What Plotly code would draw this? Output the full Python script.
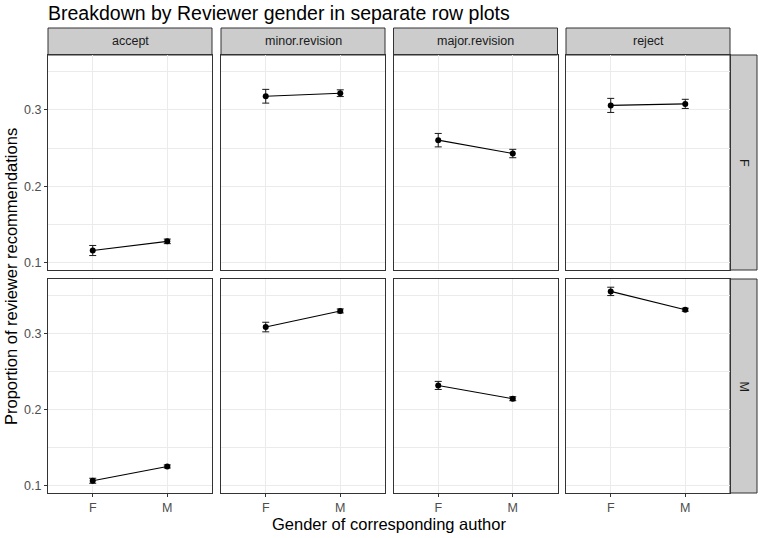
import plotly.graph_objects as go
from plotly.subplots import make_subplots

# ---- data ----
outcomes = ["accept", "minor.revision", "major.revision", "reject"]
reviewer_genders = ["F", "M"]
author_genders = ["F", "M"]

# proportions per reviewer gender and outcome -> values for author F, M
prop_F_reviewer = {
    "accept": [0.116, 0.128],
    "minor.revision": [0.318, 0.322],
    "major.revision": [0.2605, 0.243],
    "reject": [0.306, 0.308],
}
err_F_reviewer = {
    "accept": [0.0066, 0.003],
    "minor.revision": [0.009, 0.0044],
    "major.revision": [0.0088, 0.0055],
    "reject": [0.0092, 0.006],
}
prop_M_reviewer = {
    "accept": [0.1066, 0.1254],
    "minor.revision": [0.3088, 0.330],
    "major.revision": [0.232, 0.2145],
    "reject": [0.3557, 0.3316],
}
err_M_reviewer = {
    "accept": [0.0033, 0.002],
    "minor.revision": [0.0063, 0.0026],
    "major.revision": [0.0053, 0.0026],
    "reject": [0.0055, 0.002],
}
y_ticks = [0.1, 0.2, 0.3]
y_tick_labels = ["0.1", "0.2", "0.3"]

title_text = "Breakdown by Reviewer gender in separate row plots"
x_title = "Gender of corresponding author"
y_title = "Proportion of reviewer recommendations"

# ---- layout geometry (pixels) ----
W, H = 760, 538
col_left = [48, 221, 393.5, 566]
panel_w = 164
row_top = [55, 279]
panel_h = [215, 214]
strip_top = 28
strip_right_w = 27
FONT = "Liberation Sans, Arial, sans-serif"

def px_x(p):
    return p / W

def px_y(p):
    return 1 - p / H

fig = make_subplots(rows=2, cols=4)

data_rows = [(prop_F_reviewer, err_F_reviewer), (prop_M_reviewer, err_M_reviewer)]

for r, (props, errs) in enumerate(data_rows):
    for c, oc in enumerate(outcomes):
        fig.add_trace(
            go.Scatter(
                x=author_genders,
                y=props[oc],
                mode="lines+markers",
                line=dict(color="black", width=1.1),
                marker=dict(color="black", size=6),
                error_y=dict(type="data", array=errs[oc], visible=True,
                             color="#1a1a1a", thickness=1, width=3.5),
                showlegend=False,
                hoverinfo="skip",
            ),
            row=r + 1, col=c + 1,
        )

shapes = []
annotations = []
grid = "#EBEBEB"
border = "#333333"
strip_fill = "#CCCCCC"

for r in range(2):
    for c in range(4):
        idx = r * 4 + c + 1
        xa = "xaxis" if idx == 1 else f"xaxis{idx}"
        ya = "yaxis" if idx == 1 else f"yaxis{idx}"
        x0 = col_left[c]
        x1 = x0 + panel_w
        y0 = row_top[r]
        y1 = y0 + panel_h[r]
        fig.layout[xa].update(
            domain=[px_x(x0), px_x(x1)],
            type="category",
            categoryorder="array",
            categoryarray=author_genders,
            range=[-0.6, 1.6],
            showgrid=True, gridcolor=grid, gridwidth=1,
            showline=True, mirror=True, linecolor=border, linewidth=1,
            zeroline=False,
            ticks="outside" if r == 1 else "",
            ticklen=3, tickcolor=border,
            showticklabels=(r == 1),
            tickfont=dict(family=FONT, size=12.5, color="#4D4D4D"),
            fixedrange=True,
        )
        fig.layout[ya].update(
            domain=[px_y(y1), px_y(y0)],
            range=[0.0905, 0.372],
            tickvals=y_ticks,
            ticktext=y_tick_labels,
            showgrid=True, gridcolor=grid, gridwidth=1,
            minor=dict(tick0=0.05, dtick=0.1, showgrid=True, gridcolor=grid, gridwidth=0.6),
            showline=True, mirror=True, linecolor=border, linewidth=1,
            zeroline=False,
            ticks="outside" if c == 0 else "",
            ticklen=3, tickcolor=border,
            showticklabels=(c == 0),
            tickfont=dict(family=FONT, size=12.5, color="#4D4D4D"),
            fixedrange=True,
        )

# top strips
for c, oc in enumerate(outcomes):
    x0 = col_left[c]
    x1 = x0 + panel_w
    shapes.append(dict(type="rect", xref="paper", yref="paper",
                       x0=px_x(x0), x1=px_x(x1), y0=px_y(row_top[0]), y1=px_y(strip_top),
                       fillcolor=strip_fill, line=dict(color=border, width=1), layer="below"))
    annotations.append(dict(text=oc, xref="paper", yref="paper",
                            x=px_x((x0 + x1) / 2), y=px_y((strip_top + row_top[0]) / 2),
                            xanchor="center", yanchor="middle", showarrow=False,
                            font=dict(family=FONT, size=12.5, color="#1A1A1A")))

# right strips
sx0 = col_left[3] + panel_w
sx1 = sx0 + strip_right_w
for r, g in enumerate(reviewer_genders):
    y0 = row_top[r]
    y1 = y0 + panel_h[r]
    shapes.append(dict(type="rect", xref="paper", yref="paper",
                       x0=px_x(sx0), x1=px_x(sx1), y0=px_y(y1), y1=px_y(y0),
                       fillcolor=strip_fill, line=dict(color=border, width=1), layer="below"))
    annotations.append(dict(text=g, xref="paper", yref="paper",
                            x=px_x((sx0 + sx1) / 2), y=px_y((y0 + y1) / 2),
                            xanchor="center", yanchor="middle", showarrow=False, textangle=90,
                            font=dict(family=FONT, size=12.5, color="#1A1A1A")))

# axis titles
annotations.append(dict(text=x_title, xref="paper", yref="paper",
                        x=px_x((col_left[0] + col_left[3] + panel_w) / 2), y=px_y(524),
                        xanchor="center", yanchor="middle", showarrow=False,
                        font=dict(family=FONT, size=16.5, color="black")))
annotations.append(dict(text=y_title, xref="paper", yref="paper",
                        x=px_x(11), y=px_y(277),
                        xanchor="center", yanchor="middle", showarrow=False, textangle=-90,
                        font=dict(family=FONT, size=16.5, color="black")))

fig.update_layout(
    width=W, height=H,
    margin=dict(l=0, r=0, t=0, b=0),
    paper_bgcolor="white", plot_bgcolor="white",
    title=dict(text=title_text, x=px_x(48), xanchor="left", xref="paper",
               y=px_y(13), yanchor="middle",
               font=dict(family=FONT, size=19.5, color="black")),
    shapes=shapes,
    annotations=annotations,
)

fig.write_html("out.html",
               config={"displayModeBar": False},
               post_script="document.body.style.margin='0px';document.body.style.padding='0px';")
